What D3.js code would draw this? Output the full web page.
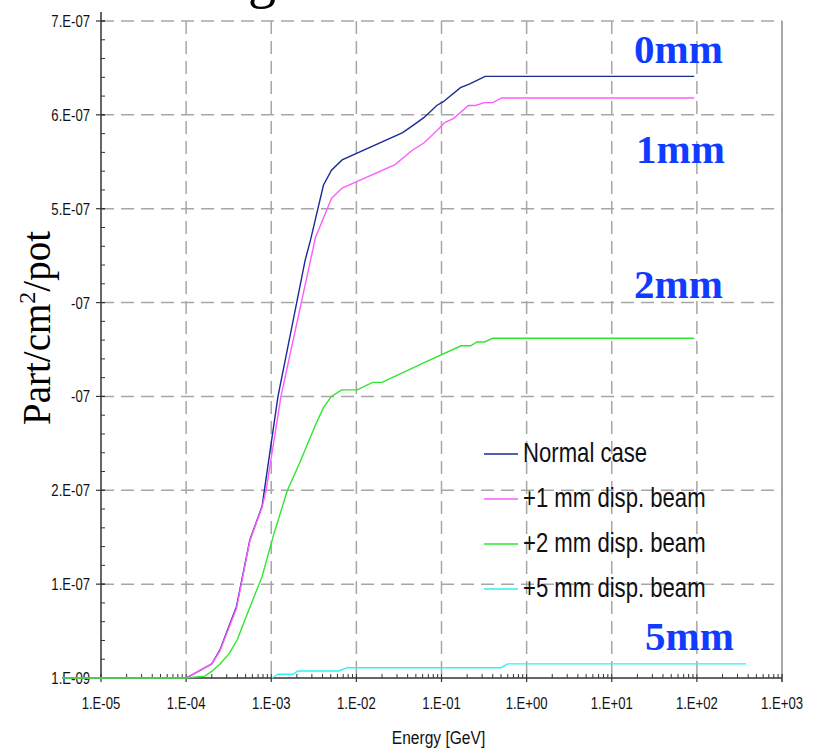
<!DOCTYPE html>
<html>
<head>
<meta charset="utf-8">
<script src="https://cdn.jsdelivr.net/npm/d3@7"></script>
<style>
  body { margin: 0; background: #fff; }
  svg { display: block; }
</style>
</head>
<body>
<div id="chart"></div>
<script>
// energies in GeV, flux in part/cm2/pot
const normalE = [3.5e-6, 1e-4, 2.0e-4, 2.5e-4, 3.9e-4, 5.6e-4, 7.8e-4, 8.3e-4, 1.2e-3, 2.5e-3, 2.9e-3, 4.1e-3, 5.1e-3, 6.8e-3, 3.5e-2, 4.5e-2, 6.2e-2, 8.8e-2, 0.105, 0.167, 0.215, 0.325, 93];
const normalV = [0, 0, 0.15e-7, 0.30e-7, 0.76e-7, 1.47e-7, 1.83e-7, 2.0e-7, 3.0e-7, 4.45e-7, 4.67e-7, 5.25e-7, 5.41e-7, 5.52e-7, 5.81e-7, 5.88e-7, 5.97e-7, 6.10e-7, 6.14e-7, 6.29e-7, 6.33e-7, 6.41e-7, 6.41e-7];

const disp1E = [3.5e-6, 1e-4, 2.0e-4, 2.5e-4, 3.9e-4, 5.6e-4, 7.8e-4, 8.7e-4, 1.3e-3, 3.3e-3, 5.1e-3, 6.8e-3, 2.85e-2, 4.5e-2, 6.2e-2, 8.8e-2, 0.11, 0.138, 0.207, 0.25, 0.32, 0.40, 0.51, 93];
const disp1V = [0, 0, 0.15e-7, 0.29e-7, 0.74e-7, 1.46e-7, 1.82e-7, 2.0e-7, 3.0e-7, 4.69e-7, 5.11e-7, 5.22e-7, 5.47e-7, 5.62e-7, 5.70e-7, 5.83e-7, 5.92e-7, 5.96e-7, 6.10e-7, 6.10e-7, 6.13e-7, 6.13e-7, 6.18e-7, 6.18e-7];

const disp2E = [3.5e-6, 1e-4, 1.66e-4, 2.0e-4, 2.5e-4, 3.2e-4, 4.0e-4, 5.0e-4, 7.8e-4, 1.07e-3, 1.55e-3, 2.2e-3, 2.86e-3, 3.4e-3, 4.1e-3, 5.1e-3, 6.7e-3, 1.02e-2, 1.55e-2, 2.0e-2, 4.5e-2, 5.9e-2, 0.17, 0.22, 0.26, 0.32, 0.40, 93];
const disp2V = [0, 0, 0.02e-7, 0.07e-7, 0.15e-7, 0.26e-7, 0.41e-7, 0.64e-7, 1.08e-7, 1.53e-7, 2.0e-7, 2.31e-7, 2.56e-7, 2.72e-7, 2.88e-7, 3.0e-7, 3.07e-7, 3.07e-7, 3.15e-7, 3.15e-7, 3.30e-7, 3.35e-7, 3.54e-7, 3.54e-7, 3.58e-7, 3.58e-7, 3.62e-7, 3.62e-7];

const disp5E = [1.02e-3, 1.2e-3, 1.8e-3, 2.05e-3, 6.2e-3, 7.8e-3, 0.5, 0.6, 378];
const disp5V = [0, 0.04e-7, 0.04e-7, 0.075e-7, 0.075e-7, 0.11e-7, 0.11e-7, 0.15e-7, 0.15e-7];

const seriesNames = ["Normal case", "+1 mm disp. beam", "+2 mm disp. beam", "+5 mm disp. beam"];
const seriesColors = ["#1c2a96", "#ff5cff", "#2ee62e", "#2ef2f2"];
const seriesE = [normalE, disp1E, disp2E, disp5E];
const seriesV = [normalV, disp1V, disp2V, disp5V];

const xTicks = [1e-5, 1e-4, 1e-3, 1e-2, 1e-1, 1, 10, 100, 1000];
const xTickLabels = ["1.E-05", "1.E-04", "1.E-03", "1.E-02", "1.E-01", "1.E+00", "1.E+01", "1.E+02", "1.E+03"];
const yTicks = [0, 1e-7, 2e-7, 3e-7, 4e-7, 5e-7, 6e-7, 7e-7];
const yTickLabels = ["1.E-09", "1.E-07", "2.E-07", "-07", "-07", "5.E-07", "6.E-07", "7.E-07"];

const caseLabels = ["0mm", "1mm", "2mm", "5mm"];
const caseLabelPos = [[634, 63], [636, 163], [634, 298], [645, 650]];

const width = 819, height = 750;
const margin = { top: 21, right: 37, bottom: 72, left: 101 };
// no narrow font installed, so squeeze Liberation Sans horizontally
const sansFont = "'Liberation Sans', Arial, sans-serif";
const squeeze = 0.82;

const svg = d3.select("#chart").append("svg")
    .attr("width", width)
    .attr("height", height);

const x = d3.scaleLog()
    .domain([1e-5, 1e3])
    .range([margin.left, width - margin.right]);

const y = d3.scaleLinear()
    .domain([0, 7e-7])
    .range([height - margin.bottom, margin.top]);

const x0 = x.range()[0], x1 = x.range()[1];
const y0 = y.range()[0], y1 = y.range()[1];

function narrow(px, py) {
    return `translate(${px},${py}) scale(${squeeze},1)`;
}

// title fragment cut off at the top
svg.append("text")
    .attr("x", 248)
    .attr("y", -3)
    .attr("font-family", "'Liberation Serif', serif")
    .attr("font-size", 56)
    .text("g");

// dashed grid
const gridDash = "13,7";
svg.append("g")
    .selectAll("line")
    .data(yTicks.slice(1))
    .enter().append("line")
    .attr("x1", x0).attr("x2", x1)
    .attr("y1", d => y(d)).attr("y2", d => y(d))
    .attr("stroke", "#a6a6a6")
    .attr("stroke-width", 1.5)
    .attr("stroke-dasharray", gridDash);

svg.append("g")
    .selectAll("line")
    .data(xTicks.slice(1, -1))
    .enter().append("line")
    .attr("x1", d => x(d)).attr("x2", d => x(d))
    .attr("y1", y1).attr("y2", y0)
    .attr("stroke", "#a6a6a6")
    .attr("stroke-width", 1.5)
    .attr("stroke-dasharray", gridDash);

// right border
svg.append("line")
    .attr("x1", x1).attr("x2", x1)
    .attr("y1", y1).attr("y2", y0 + 4)
    .attr("stroke", "#8c8c8c")
    .attr("stroke-width", 1.5);

// x axis: major ticks below, minor ticks inside
const minorX = [];
for (let p = -5; p < 3; p++) {
    for (let k = 2; k <= 9; k++) minorX.push(k * Math.pow(10, p));
}
const xAxis = svg.append("g").attr("stroke", "#333");
xAxis.append("line")
    .attr("x1", x0).attr("x2", x1)
    .attr("y1", y0).attr("y2", y0)
    .attr("stroke-width", 1.5);
xAxis.selectAll(".minor")
    .data(minorX)
    .enter().append("line")
    .attr("x1", d => x(d)).attr("x2", d => x(d))
    .attr("y1", y0).attr("y2", y0 - 4)
    .attr("stroke-width", 1);
xAxis.selectAll(".major")
    .data(xTicks)
    .enter().append("line")
    .attr("x1", d => x(d)).attr("x2", d => x(d))
    .attr("y1", y0 - 4).attr("y2", y0 + 4)
    .attr("stroke-width", 1.2);

svg.append("g")
    .selectAll("text")
    .data(xTicks)
    .enter().append("text")
    .attr("transform", d => narrow(x(d), 709))
    .attr("text-anchor", "middle")
    .attr("font-family", sansFont)
    .attr("font-size", 16)
    .attr("fill", "#111")
    .text((d, i) => xTickLabels[i]);

svg.append("text")
    .attr("transform", narrow((x0 + x1) / 2 - 3, 744))
    .attr("text-anchor", "middle")
    .attr("font-family", sansFont)
    .attr("font-size", 19)
    .attr("fill", "#111")
    .text("Energy [GeV]");

// y axis: major ticks outside, minor ticks inside
const minorY = d3.range(0, 7e-7 + 1e-12, 0.2e-7);
const yAxis = svg.append("g").attr("stroke", "#333");
yAxis.append("line")
    .attr("x1", x0).attr("x2", x0)
    .attr("y1", 12).attr("y2", y0)
    .attr("stroke-width", 1.5);
yAxis.selectAll(".minor")
    .data(minorY)
    .enter().append("line")
    .attr("x1", x0).attr("x2", x0 + 4)
    .attr("y1", d => y(d)).attr("y2", d => y(d))
    .attr("stroke-width", 1);
yAxis.selectAll(".major")
    .data(yTicks)
    .enter().append("line")
    .attr("x1", x0 - 5).attr("x2", x0 + 4)
    .attr("y1", d => y(d)).attr("y2", d => y(d))
    .attr("stroke-width", 1.2);

svg.append("g")
    .selectAll("text")
    .data(yTicks)
    .enter().append("text")
    .attr("transform", d => narrow(90, y(d) + 6))
    .attr("text-anchor", "end")
    .attr("font-family", sansFont)
    .attr("font-size", 16)
    .attr("fill", "#111")
    .text((d, i) => yTickLabels[i]);

const yLabel = svg.append("text")
    .attr("transform", "translate(50,328) rotate(-90)")
    .attr("text-anchor", "middle")
    .attr("font-family", "'Liberation Serif', 'Times New Roman', serif")
    .attr("font-size", 39)
    .attr("fill", "#000");
yLabel.append("tspan").text("Part/cm");
yLabel.append("tspan").attr("font-size", 24).attr("dy", -15).text("2");
yLabel.append("tspan").attr("dy", 15).text("/pot");

// curves
const line = d3.line()
    .x(d => x(d[0]))
    .y(d => y(d[1]));

const drawOrder = [3, 0, 1, 2];
drawOrder.forEach(i => {
    const pts = seriesE[i].map((e, j) => [e, seriesV[i][j]]);
    svg.append("path")
        .datum(pts)
        .attr("fill", "none")
        .attr("stroke", seriesColors[i])
        .attr("stroke-width", 1.4)
        .attr("d", line);
});

// legend
const legend = svg.append("g");
seriesNames.forEach((name, i) => {
    const ly = 454 + i * 45;
    legend.append("line")
        .attr("x1", 484).attr("x2", 518)
        .attr("y1", ly).attr("y2", ly)
        .attr("stroke", seriesColors[i])
        .attr("stroke-width", 1.4);
    legend.append("text")
        .attr("transform", narrow(523, ly + 8))
        .attr("font-family", sansFont)
        .attr("font-size", 27)
        .attr("fill", "#111")
        .text(name);
});

// case annotations
svg.append("g")
    .selectAll("text")
    .data(caseLabels)
    .enter().append("text")
    .attr("x", (d, i) => caseLabelPos[i][0])
    .attr("y", (d, i) => caseLabelPos[i][1])
    .attr("font-family", "'Liberation Serif', 'Times New Roman', serif")
    .attr("font-weight", "bold")
    .attr("font-size", 41)
    .attr("fill", "#0f3cff")
    .text(d => d);
</script>
</body>
</html>
